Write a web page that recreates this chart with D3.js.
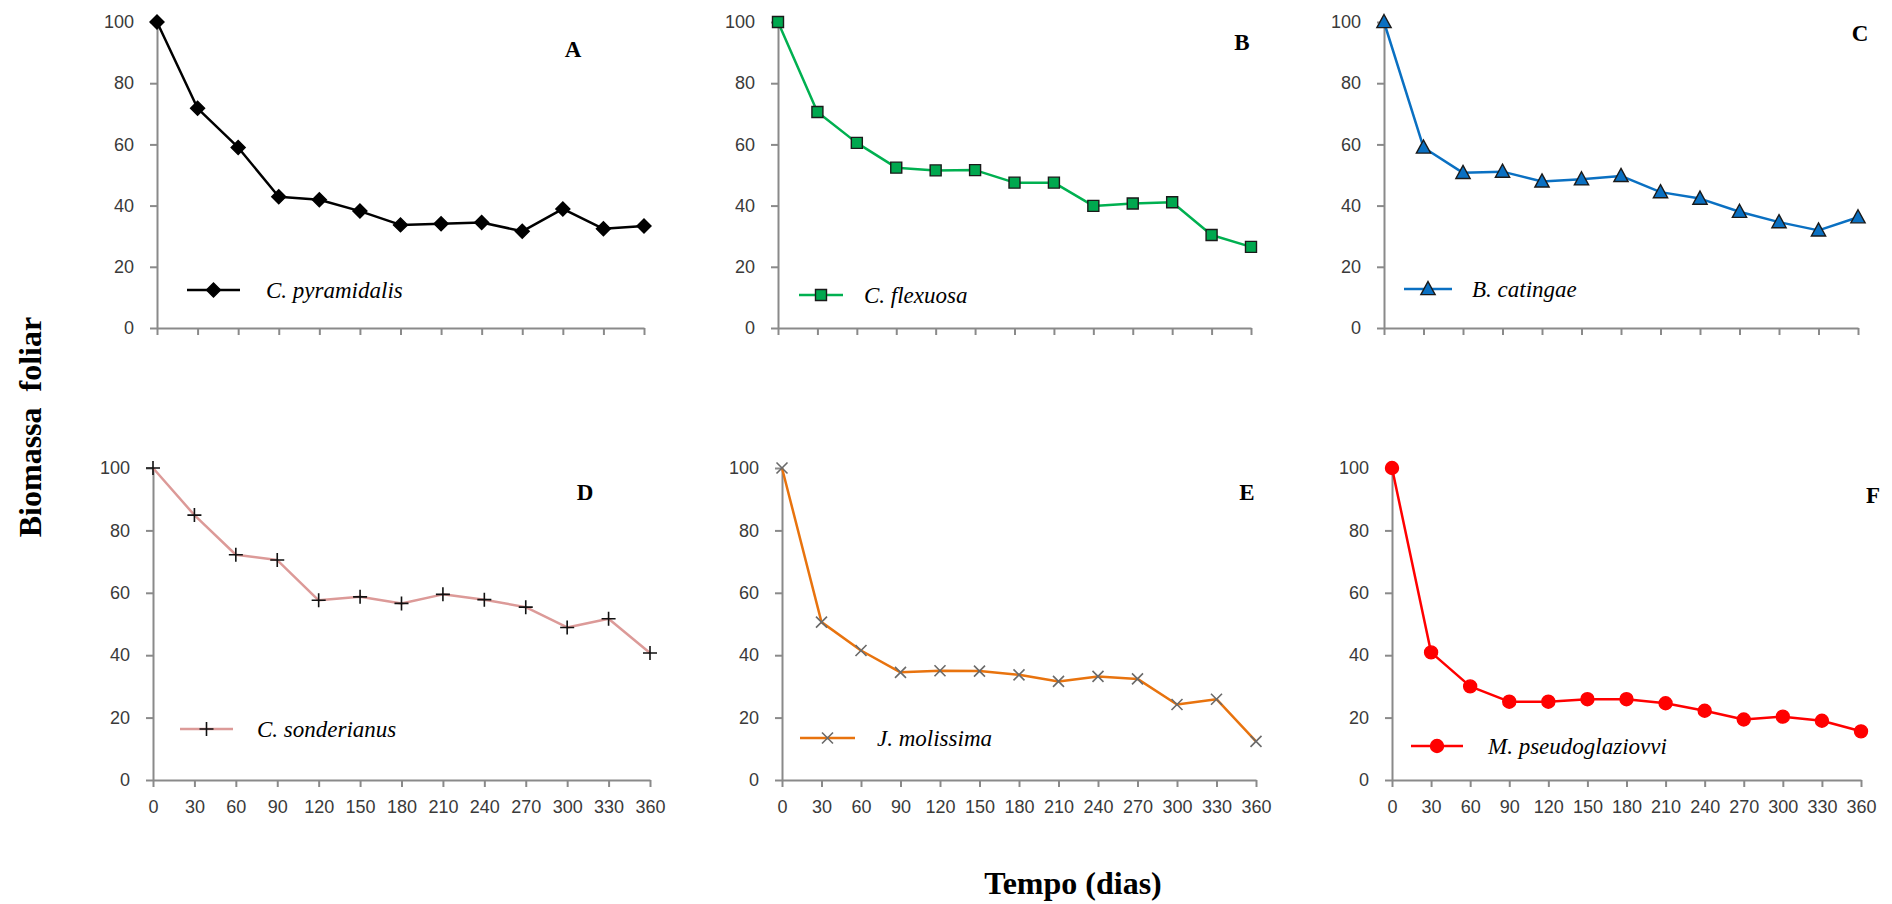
<!DOCTYPE html>
<html>
<head>
<meta charset="utf-8">
<script src="https://cdn.jsdelivr.net/npm/d3@7"></script>
<style>
  html, body { margin: 0; padding: 0; background: #fff; }
  svg { display: block; }
</style>
</head>
<body>
<svg id="chart" width="1892" height="904"></svg>
<script>
// ---------------- data ----------------
const days = [0, 30, 60, 90, 120, 150, 180, 210, 240, 270, 300, 330, 360];
const yTicks = [0, 20, 40, 60, 80, 100];

const pyramidalis     = [100, 71.8, 59.0, 42.9, 41.9, 38.2, 33.7, 34.1, 34.5, 31.6, 38.9, 32.4, 33.3];
const flexuosa        = [100, 70.6, 60.5, 52.4, 51.5, 51.6, 47.5, 47.5, 39.9, 40.7, 41.1, 30.4, 26.5];
const catingae        = [100, 59.0, 50.7, 51.1, 47.9, 48.6, 49.7, 44.4, 42.3, 38.0, 34.6, 31.9, 36.2];
const sonderianus     = [100, 84.9, 72.2, 70.5, 57.6, 58.7, 56.6, 59.5, 57.8, 55.4, 48.9, 51.7, 40.7];
const molissima       = [100, 50.6, 41.5, 34.5, 35.0, 34.9, 33.7, 31.6, 33.2, 32.4, 24.2, 25.9, 12.4];
const pseudoglaziovvi = [100, 40.9, 30.0, 25.1, 25.1, 25.9, 25.9, 24.6, 22.2, 19.4, 20.3, 19.0, 15.6];

const speciesNames = ["C. pyramidalis", "C. flexuosa", "B. catingae", "C. sonderianus", "J. molissima", "M. pseudoglaziovvi"];
const panelLetters = ["A", "B", "C", "D", "E", "F"];
const seriesValues = [pyramidalis, flexuosa, catingae, sonderianus, molissima, pseudoglaziovvi];

const yTitle = "Biomassa  foliar";
const xTitle = "Tempo (dias)";

// ---------------- styles / layout ----------------
const lineColors   = ["#000000", "#00b050", "#0a70c2", "#dc9a98", "#e8730e", "#ff0000"];
const markerTypes  = ["diamond", "square", "triangle", "plus", "times", "circle"];
const markerFill   = ["#000000", "#00a84f", "#0a70c2", "none", "none", "#ff0000"];
const markerStroke = ["#000000", "#1a1a1a", "#1a1a1a", "#111111", "#6a6a6a", "#ff0000"];

// plot areas: [x0, x1, yTop(100), yBottom(0)]
const panels = [
  [157, 644, 22, 328],
  [778, 1251, 22, 328],
  [1384, 1858, 22, 328],
  [153, 650, 468, 780],
  [782, 1256, 468, 780],
  [1392, 1861, 468, 780]
];
// legend: [lineX0, lineX1, y, textX]
const legends = [
  [187, 240, 290, 266],
  [799, 843, 295, 864],
  [1404, 1452, 289, 1472],
  [180, 233, 729, 257],
  [800, 855, 738, 877],
  [1411, 1463, 746, 1488]
];
// letter label positions (baseline)
const letterPos = [[573, 57], [1242, 50], [1860, 41], [585, 500], [1247, 500], [1873, 503]];

const svg = d3.select("#chart");

function markerPath(type) {
  const p = d3.path();
  switch (type) {
    case "diamond": { const r = 7; p.moveTo(0, -r); p.lineTo(r, 0); p.lineTo(0, r); p.lineTo(-r, 0); p.closePath(); break; }
    case "square": { const s = 5.5; p.rect(-s, -s, 2 * s, 2 * s); break; }
    case "triangle": { const h = 7.5; p.moveTo(0, -h); p.lineTo(h * 0.95, h * 0.75); p.lineTo(-h * 0.95, h * 0.75); p.closePath(); break; }
    case "plus": { const a = 7; p.moveTo(-a, 0); p.lineTo(a, 0); p.moveTo(0, -a); p.lineTo(0, a); break; }
    case "times": { const a = 5.5; p.moveTo(-a, -a); p.lineTo(a, a); p.moveTo(a, -a); p.lineTo(-a, a); break; }
    case "circle": { p.arc(0, 0, 6.5, 0, 2 * Math.PI); break; }
  }
  return p.toString();
}

const axisColor = "#8a8a8a";
const tickTextColor = "#3a3a3a";

panels.forEach((pn, i) => {
  const [x0, x1, yT, yB] = pn;
  const x = d3.scaleLinear().domain([0, 360]).range([x0, x1]);
  const y = d3.scaleLinear().domain([0, 100]).range([yB, yT]);
  const g = svg.append("g");
  const bottomRow = i >= 3;

  // y axis
  const ya = g.append("g").attr("transform", `translate(${x0},0)`)
    .call(d3.axisLeft(y).tickValues(yTicks).tickSize(7).tickSizeOuter(0).tickPadding(16));
  // x axis
  const xa = g.append("g").attr("transform", `translate(0,${yB})`)
    .call(d3.axisBottom(x).tickValues(days).tickSize(7).tickSizeOuter(0).tickPadding(13)
      .tickFormat(bottomRow ? d3.format("d") : () => ""));

  [ya, xa].forEach(a => {
    a.select(".domain").attr("stroke", axisColor).attr("stroke-width", 2);
    a.selectAll(".tick line").attr("stroke", axisColor).attr("stroke-width", 2);
    a.selectAll(".tick text").attr("fill", tickTextColor)
      .style("font-family", "'Liberation Sans', Arial, sans-serif").style("font-size", "18px");
  });

  const vals = seriesValues[i];
  const line = d3.line().x((d, k) => x(days[k])).y(d => y(d));
  g.append("path").datum(vals).attr("d", line)
    .attr("fill", "none").attr("stroke", lineColors[i]).attr("stroke-width", 2.5)
    .attr("stroke-linejoin", "round");

  const mp = markerPath(markerTypes[i]);
  g.selectAll("path.mk").data(vals).enter().append("path").attr("class", "mk")
    .attr("transform", (d, k) => `translate(${x(days[k])},${y(d)})`)
    .attr("d", mp)
    .attr("fill", markerFill[i]).attr("stroke", markerStroke[i])
    .attr("stroke-width", markerTypes[i] === "plus" || markerTypes[i] === "times" ? 1.6 : 1.4);

  // legend
  const [lx0, lx1, ly, tx] = legends[i];
  g.append("line").attr("x1", lx0).attr("x2", lx1).attr("y1", ly).attr("y2", ly)
    .attr("stroke", lineColors[i]).attr("stroke-width", 2.5);
  g.append("path").attr("transform", `translate(${(lx0 + lx1) / 2},${ly})`).attr("d", mp)
    .attr("fill", markerFill[i]).attr("stroke", markerStroke[i])
    .attr("stroke-width", markerTypes[i] === "plus" || markerTypes[i] === "times" ? 1.6 : 1.4);
  g.append("text").attr("x", tx).attr("y", ly + 8).text(speciesNames[i])
    .style("font-family", "'Liberation Serif', 'Times New Roman', serif")
    .style("font-style", "italic").style("font-size", "23px").attr("fill", "#000");

  // panel letter
  g.append("text").attr("x", letterPos[i][0]).attr("y", letterPos[i][1]).text(panelLetters[i])
    .attr("text-anchor", "middle")
    .style("font-family", "'Liberation Serif', 'Times New Roman', serif")
    .style("font-weight", "bold").style("font-size", "23px").attr("fill", "#000");
});

// axis titles
svg.append("text").attr("transform", "translate(41,427) rotate(-90)")
  .attr("text-anchor", "middle").text(yTitle)
  .style("font-family", "'Liberation Serif', 'Times New Roman', serif")
  .style("font-weight", "bold").style("font-size", "32px").style("white-space", "pre")
  .attr("xml:space", "preserve");
svg.append("text").attr("x", 1073).attr("y", 894).attr("text-anchor", "middle").text(xTitle)
  .style("font-family", "'Liberation Serif', 'Times New Roman', serif")
  .style("font-weight", "bold").style("font-size", "32px");
</script>
</body>
</html>
